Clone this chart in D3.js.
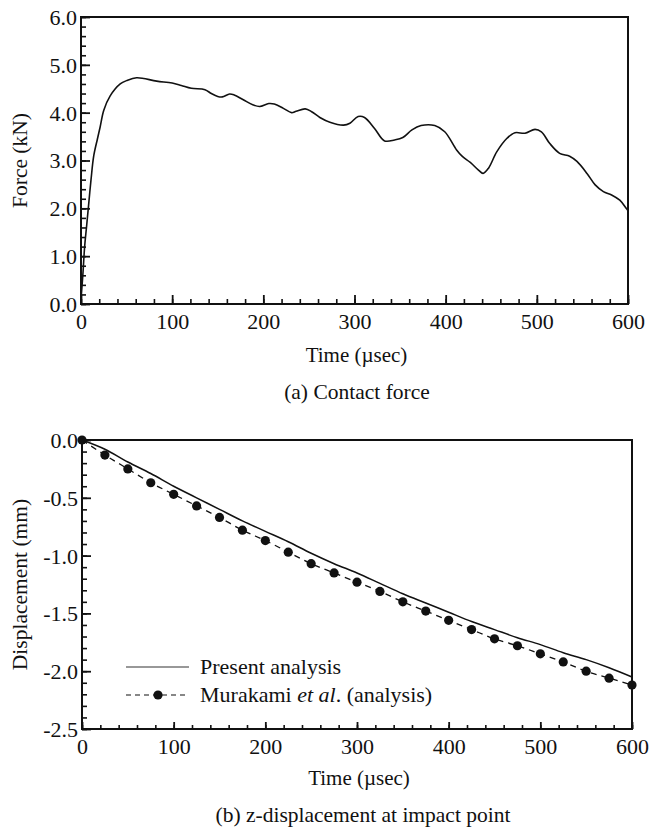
<!DOCTYPE html>
<html>
<head>
<meta charset="utf-8">
<script src="https://cdn.jsdelivr.net/npm/d3@7"></script>
<style>
  body { margin: 0; background: #fff; }
  svg text { font-family: "Liberation Serif", "Times New Roman", serif; fill: #111; }
</style>
</head>
<body>
<svg id="chart" width="652" height="829"></svg>
<script>
// ---- data ----
const forceTime = [0, 2, 4, 6, 8, 11, 14, 18, 21, 25, 32, 43, 50, 61, 83, 100, 110, 121, 136, 143, 150, 155, 163, 168, 178, 189, 196, 206, 212, 222, 231, 236, 246, 253, 262, 273, 288, 295, 304, 311, 322, 333, 344, 353, 363, 373, 388, 399, 412, 418, 427, 436, 441, 447, 456, 467, 476, 487, 498, 505, 514, 525, 536, 544, 555, 564, 573, 582, 591, 598, 600];
const forceValues = [0.1, 0.6, 1.2, 1.6, 2.0, 2.6, 3.1, 3.45, 3.7, 4.05, 4.35, 4.6, 4.67, 4.73, 4.66, 4.62, 4.57, 4.51, 4.48, 4.40, 4.34, 4.33, 4.39, 4.37, 4.27, 4.16, 4.13, 4.19, 4.18, 4.09, 4.0, 4.03, 4.08, 4.02, 3.90, 3.80, 3.74, 3.78, 3.92, 3.90, 3.67, 3.41, 3.43, 3.48, 3.64, 3.73, 3.73, 3.60, 3.22, 3.09, 2.96, 2.80, 2.73, 2.84, 3.18, 3.46, 3.58, 3.57, 3.65, 3.60, 3.36, 3.15, 3.09, 2.98, 2.73, 2.49, 2.35, 2.28, 2.17, 2.0, 1.95];

const dispTime = [0, 25, 50, 75, 100, 125, 150, 175, 200, 225, 250, 275, 300, 325, 350, 375, 400, 425, 450, 475, 500, 525, 550, 575, 600];
const presentDisp = [0, -0.08, -0.19, -0.29, -0.40, -0.50, -0.60, -0.70, -0.79, -0.88, -0.98, -1.07, -1.15, -1.24, -1.33, -1.41, -1.49, -1.57, -1.64, -1.71, -1.77, -1.84, -1.90, -1.97, -2.05];
const murakamiDisp = [0, -0.13, -0.25, -0.37, -0.47, -0.57, -0.67, -0.78, -0.87, -0.97, -1.07, -1.15, -1.23, -1.31, -1.40, -1.48, -1.56, -1.64, -1.72, -1.78, -1.85, -1.92, -2.00, -2.06, -2.12];

const timeTicks = [0, 100, 200, 300, 400, 500, 600];
const forceTicks = [0, 1, 2, 3, 4, 5, 6];
const dispTicks = [0, -0.5, -1.0, -1.5, -2.0, -2.5];

const legendLabels = ['Present analysis', 'Murakami '];

const svg = d3.select('#chart');

// ------- one panel: frame, inward ticks, labels -------
const panel = (box, yDomain, yTicks, yMinorStep, ticksLen, yTitle, xTitleY, caption, captionX, captionY) => {
    const x = d3.scaleLinear().domain([0, 600]).range([box.left, box.right]);
    const y = d3.scaleLinear().domain(yDomain).range([box.bottom, box.top]);
    const g = svg.append('g');

    g.append('rect')
        .attr('x', box.left).attr('y', box.top)
        .attr('width', box.right - box.left).attr('height', box.bottom - box.top)
        .attr('fill', 'none').attr('stroke', '#111').attr('stroke-width', 2);

    // minor x ticks every 20
    g.append('g')
        .attr('transform', `translate(0,${box.bottom})`)
        .call(d3.axisBottom(x).tickValues(d3.range(0, 601, 20)).tickSize(-ticksLen.xMinor).tickFormat(''))
        .call(a => a.select('.domain').remove())
        .selectAll('line').attr('stroke', '#111').attr('stroke-width', 1.6);

    // major x ticks + labels
    g.append('g')
        .attr('transform', `translate(0,${box.bottom})`)
        .call(d3.axisBottom(x).tickValues(timeTicks).tickSize(-ticksLen.xMajor).tickPadding(0).tickFormat(d => d))
        .call(a => a.select('.domain').remove())
        .call(a => a.selectAll('line').attr('stroke', '#111').attr('stroke-width', 1.8))
        .call(a => a.selectAll('text')
            .attr('y', 25).attr('dy', null)
            .attr('font-size', 22).attr('fill', '#111')
            .style('font-family', '"Liberation Serif", serif'));

    // minor y ticks
    const minor = d3.range(yDomain[0], yDomain[1] + 1e-9, yMinorStep);
    g.append('g')
        .attr('transform', `translate(${box.left},0)`)
        .call(d3.axisLeft(y).tickValues(minor).tickSize(-ticksLen.yMinor).tickFormat(''))
        .call(a => a.select('.domain').remove())
        .selectAll('line').attr('stroke', '#111').attr('stroke-width', 1.6);

    // major y ticks + labels
    g.append('g')
        .attr('transform', `translate(${box.left},0)`)
        .call(d3.axisLeft(y).tickValues(yTicks).tickSize(-ticksLen.yMajor).tickPadding(4).tickFormat(d => d.toFixed(1)))
        .call(a => a.select('.domain').remove())
        .call(a => a.selectAll('line').attr('stroke', '#111').attr('stroke-width', 1.8))
        .call(a => a.selectAll('text')
            .attr('x', -4).attr('dy', '0.34em')
            .attr('font-size', 22).attr('fill', '#111')
            .style('font-family', '"Liberation Serif", serif'));

    // axis titles
    g.append('text')
        .attr('x', (box.left + box.right) / 2 + 2)
        .attr('y', xTitleY)
        .attr('text-anchor', 'middle')
        .attr('font-size', 21)
        .text('Time (\u00b5sec)');

    g.append('text')
        .attr('transform', `translate(27,${(box.top + box.bottom) / 2}) rotate(-90)`)
        .attr('text-anchor', 'middle')
        .attr('font-size', 21.5)
        .text(yTitle);

    g.append('text')
        .attr('x', captionX)
        .attr('y', captionY)
        .attr('text-anchor', 'middle')
        .attr('font-size', 21.5)
        .text(caption);

    return {x, y, g};
};

// ------- (a) contact force -------
const forcePanel = panel({left: 81, right: 628, top: 17, bottom: 304}, [0, 6], forceTicks, 0.2,
    {xMinor: 5, xMajor: 9, yMinor: 5, yMajor: 9},
    'Force (kN)', 362, '(a) Contact force', 357, 399);

const forceLine = d3.line()
    .x((d, i) => forcePanel.x(forceTime[i]))
    .y(d => forcePanel.y(d))
    .curve(d3.curveCatmullRom.alpha(0.5));

forcePanel.g.append('path')
    .attr('d', forceLine(forceValues))
    .attr('fill', 'none')
    .attr('stroke', '#111')
    .attr('stroke-width', 1.6);

// ------- (b) z-displacement -------
const dispPanel = panel({left: 82, right: 632, top: 440, bottom: 729}, [-2.5, 0], dispTicks, 0.1,
    {xMinor: 4, xMajor: 7, yMinor: 5, yMajor: 9},
    'Displacement (mm)', 785, '(b) z-displacement at impact point', 363, 822);

const dispLine = d3.line()
    .x((d, i) => dispPanel.x(dispTime[i]))
    .y(d => dispPanel.y(d))
    .curve(d3.curveMonotoneX);

dispPanel.g.append('path')
    .attr('d', dispLine(murakamiDisp))
    .attr('fill', 'none')
    .attr('stroke', '#111')
    .attr('stroke-width', 1.3)
    .attr('stroke-dasharray', '6,5');

dispPanel.g.append('path')
    .attr('d', dispLine(presentDisp))
    .attr('fill', 'none')
    .attr('stroke', '#111')
    .attr('stroke-width', 1.5);

dispPanel.g.selectAll('circle.dot')
    .data(murakamiDisp)
    .join('circle')
        .attr('class', 'dot')
        .attr('cx', (d, i) => dispPanel.x(dispTime[i]))
        .attr('cy', d => dispPanel.y(d))
        .attr('r', 4.6)
        .attr('fill', '#111');

// ------- legend -------
const legend = dispPanel.g.append('g');

legend.append('line')
    .attr('x1', 126).attr('x2', 189).attr('y1', 667).attr('y2', 667)
    .attr('stroke', '#333').attr('stroke-width', 1.2);

legend.append('line')
    .attr('x1', 126).attr('x2', 189).attr('y1', 695).attr('y2', 695)
    .attr('stroke', '#111').attr('stroke-width', 1.2)
    .attr('stroke-dasharray', '5,4');

legend.append('circle')
    .attr('cx', 158).attr('cy', 695).attr('r', 4.6).attr('fill', '#111');

legend.append('text')
    .attr('x', 200).attr('y', 674)
    .attr('font-size', 22)
    .text(legendLabels[0]);

const murakamiText = legend.append('text')
    .attr('x', 200).attr('y', 702)
    .attr('font-size', 22);
murakamiText.append('tspan').text(legendLabels[1]);
murakamiText.append('tspan').attr('font-style', 'italic').text('et al');
murakamiText.append('tspan').text('. (analysis)');
</script>
</body>
</html>
